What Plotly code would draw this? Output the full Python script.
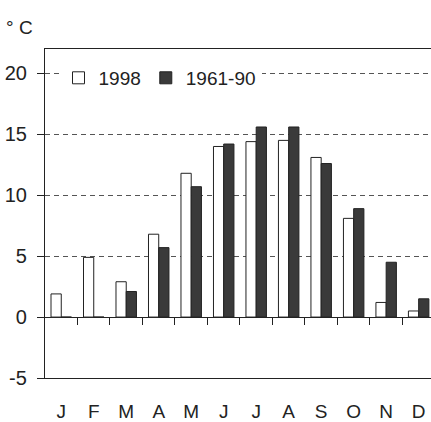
import plotly.graph_objects as go

months = ["J", "F", "M", "A", "M", "J", "J", "A", "S", "O", "N", "D"]
t1998 = [1.9, 4.9, 2.9, 6.8, 11.8, 14.0, 14.4, 14.5, 13.1, 8.1, 1.2, 0.5]
t6190 = [0.0, 0.0, 2.1, 5.7, 10.7, 14.2, 15.6, 15.6, 12.6, 8.9, 4.5, 1.5]
yticks = [-5, 0, 5, 10, 15, 20]
yticklabels = ["-5", "0", "5", "10", "15", "20"]

idx = list(range(len(months)))
bounds = [i + 0.5 for i in idx[:-1]]
FONT = "Liberation Sans, Arial, sans-serif"
xr = [-0.5, 11.38]
yr = [-5, 22]

fig = go.Figure()
fig.add_trace(go.Bar(x=idx, y=t1998, name="1998",
                     marker=dict(color="white", line=dict(color="#222", width=1))))
fig.add_trace(go.Bar(x=idx, y=t6190, name="1961-90",
                     marker=dict(color="#3a3a3a", line=dict(color="#222", width=1))))
fig.add_trace(go.Scatter(x=[None], y=[None], xaxis="x2", yaxis="y",
                         showlegend=False, hoverinfo="skip"))

fig.update_layout(
    template="none",
    width=431, height=422,
    margin=dict(l=45, r=0, t=49, b=44, pad=0, autoexpand=False),
    paper_bgcolor="white", plot_bgcolor="white",
    barmode="group", bargap=0.37, bargroupgap=0,
    font=dict(family=FONT, size=18, color="#222"),
    xaxis=dict(range=xr, tickvals=idx, ticktext=months, ticks="",
               showline=True, mirror=True, linecolor="#222", linewidth=1.2,
               showgrid=False, zeroline=False, ticklabelstandoff=16,
               automargin=False, tickfont=dict(size=19)),
    xaxis2=dict(range=xr, overlaying="x", anchor="free",
                position=(0 - yr[0]) / (yr[1] - yr[0]),
                tickvals=bounds, ticks="outside", ticklen=7, tickcolor="#222",
                tickwidth=1, automargin=False,
                showticklabels=False, showline=False, showgrid=False, zeroline=False),
    yaxis=dict(range=yr, tickvals=yticks, ticktext=yticklabels, ticks="outside",
               ticklen=7, tickcolor="#222", tickwidth=1.2,
               showline=True, linecolor="#222", linewidth=1.2,
               showgrid=True, gridcolor="#555", griddash="5px,4px", gridwidth=1.2,
               zeroline=True, zerolinecolor="#222", zerolinewidth=1.2,
               ticklabelstandoff=6, automargin=False, tickfont=dict(size=20)),
    legend=dict(orientation="h", x=0.035, y=0.912, xanchor="left", yanchor="middle",
                bgcolor="white", font=dict(size=19), traceorder="normal"),
    showlegend=True,
    annotations=[dict(text="° C", xref="paper", yref="paper",
                      x=-0.105, y=1.064, xanchor="left", yanchor="middle",
                      showarrow=False, font=dict(size=19, color="#222"))],
)

fig.write_html("out.html")
